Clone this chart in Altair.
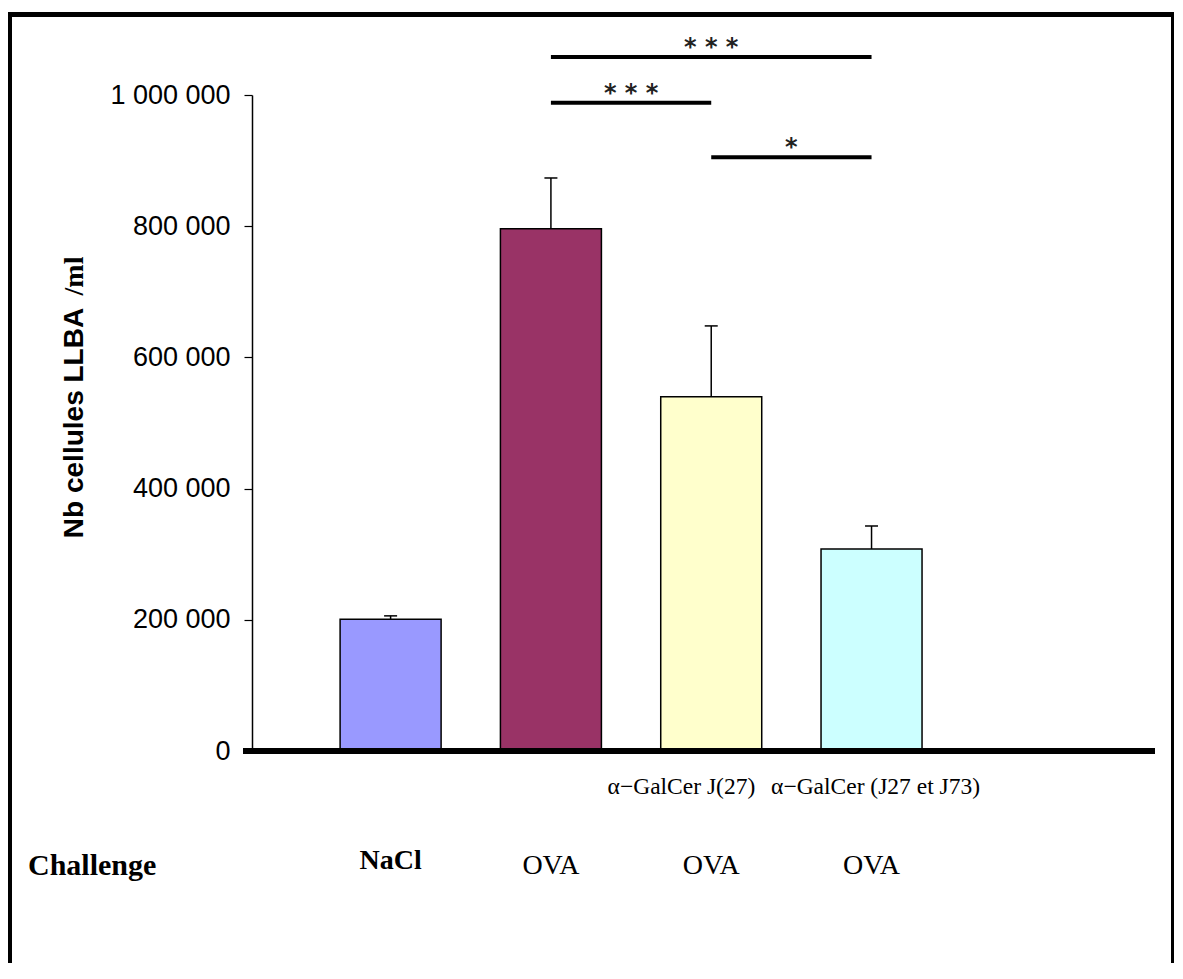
import altair as alt
import pandas as pd

# ---------------- data ----------------
groups = ["NaCl", "OVA", "OVA + a-GalCer J27", "OVA + a-GalCer J27+J73"]
challenge = ["NaCl", "OVA", "OVA", "OVA"]
treatment = ["", "", "α−GalCer J(27)", "α−GalCer (J27 et J73)"]
means = [201000, 796000, 540000, 308000]
errors = [5000, 77500, 108000, 35000]
colors = ["#9999FF", "#993366", "#FFFFCC", "#CCFFFF"]

y_ticks = [0, 200000, 400000, 600000, 800000, 1000000]

comp_from = [1, 1, 2]
comp_to = [3, 2, 3]
comp_y = [1058000, 988000, 905000]
comp_label = ["* * *", "* * *", "*"]

# ---------------- tables ----------------
df = pd.DataFrame({
    "group": groups,
    "idx": list(range(len(groups))),
    "challenge": challenge,
    "treatment": treatment,
    "mean": means,
    "err": errors,
    "color": colors,
})
df["top"] = df["mean"] + df["err"]

comp = pd.DataFrame({"x0": comp_from, "x1": comp_to, "y": comp_y, "label": comp_label})
comp["mid"] = (comp["x0"] + comp["x1"]) / 2

one = pd.DataFrame({"k": [0]})

W, H = 903, 656
xs = alt.Scale(domain=[-0.8334, 4.737], nice=False, zero=False)
ys = alt.Scale(domain=[0, 1000000], nice=False)

yaxis = alt.Axis(
    values=y_ticks,
    labelExpr="replace(format(datum.value, ','), regexp(',', 'g'), ' ')",
    labelFont="Liberation Sans",
    labelFontSize=27,
    labelColor="black",
    labelPadding=14,
    tickSize=8,
    tickColor="black",
    tickWidth=1.2,
    domainColor="black",
    domainWidth=1.5,
    grid=False,
    title="",
)

base = alt.Chart(df)

bars = base.mark_bar(size=101, stroke="black", strokeWidth=1.5).encode(
    x=alt.X("idx:Q", scale=xs, axis=None),
    y=alt.Y("mean:Q", scale=ys, axis=yaxis, title=""),
    color=alt.Color("color:N", scale=None),
)

err_rule = base.mark_rule(color="black", strokeWidth=1.5).encode(
    x=alt.X("idx:Q", scale=xs, axis=None),
    y=alt.Y("mean:Q", scale=ys, axis=yaxis, title=""),
    y2=alt.Y2("top"),
)

err_cap = base.mark_rule(color="black", strokeWidth=1.5, xOffset=-6.5, x2Offset=6.5).encode(
    x=alt.X("idx:Q", scale=xs, axis=None),
    x2=alt.X2("idx"),
    y=alt.Y("top:Q", scale=ys, axis=yaxis, title=""),
)

baseline = alt.Chart(one).mark_rule(color="black", strokeWidth=6).encode(
    y=alt.Y(datum=0, scale=ys, axis=yaxis, title=""),
    x=alt.value(-9),
    x2=alt.value(W),
)

sig_lines = alt.Chart(comp).mark_rule(color="black", strokeWidth=4).encode(
    x=alt.X("x0:Q", scale=xs, axis=None),
    x2=alt.X2("x1"),
    y=alt.Y("y:Q", scale=ys, axis=yaxis, title=""),
)

sig_text = alt.Chart(comp).mark_text(
    font="DejaVu Sans", fontSize=24, fontWeight="bold", color="#222222",
    align="center", baseline="alphabetic", dy=-2,
).encode(
    x=alt.X("mid:Q", scale=xs, axis=None),
    y=alt.Y("y:Q", scale=ys, axis=yaxis, title=""),
    text="label:N",
)

treat3 = base.transform_filter(alt.datum.idx == 2).mark_text(
    font="Liberation Serif", fontSize=23.5, color="black", align="right",
    baseline="middle", dx=44,
).encode(x=alt.X("idx:Q", scale=xs, axis=None), y=alt.value(692), text="treatment:N")

treat4 = base.transform_filter(alt.datum.idx == 3).mark_text(
    font="Liberation Serif", fontSize=23.5, color="black", align="center",
    baseline="middle", dx=4,
).encode(x=alt.X("idx:Q", scale=xs, axis=None), y=alt.value(692), text="treatment:N")

chal_nacl = base.transform_filter(alt.datum.challenge == "NaCl").mark_text(
    font="Liberation Serif", fontSize=28, fontWeight="bold", color="black",
    align="center", baseline="middle",
).encode(x=alt.X("idx:Q", scale=xs, axis=None), y=alt.value(766), text="challenge:N")

chal_ova = base.transform_filter(alt.datum.challenge == "OVA").mark_text(
    font="Liberation Serif", fontSize=28, color="black",
    align="center", baseline="middle",
).encode(x=alt.X("idx:Q", scale=xs, axis=None), y=alt.value(771), text="challenge:N")

chal_title = alt.Chart(one).mark_text(
    font="Liberation Serif", fontSize=30, fontWeight="bold", color="black",
    align="left", baseline="middle",
).encode(x=alt.value(-224), y=alt.value(771), text=alt.value("Challenge"))

ytitle1 = alt.Chart(one).mark_text(
    font="Liberation Sans", fontSize=28, fontWeight="bold", color="black",
    align="center", baseline="middle", angle=270,
).encode(x=alt.value(-177), y=alt.value(328), text=alt.value("Nb cellules LLBA"))

ytitle2 = alt.Chart(one).mark_text(
    font="Liberation Serif", fontSize=28, fontWeight="bold", color="black",
    align="center", baseline="middle", angle=270,
).encode(x=alt.value(-177), y=alt.value(181), text=alt.value("/ml"))

# figure frame (decoration)
frame_top = alt.Chart(one).mark_rule(color="black", strokeWidth=5).encode(
    x=alt.value(-244), x2=alt.value(W + 20), y=alt.value(-80.5))
frame_left = alt.Chart(one).mark_rule(color="black", strokeWidth=5).encode(
    x=alt.value(-242.5), y=alt.value(-83), y2=alt.value(H + 212))
frame_right = alt.Chart(one).mark_rule(color="black", strokeWidth=3).encode(
    x=alt.value(W + 17.5), y=alt.value(-83), y2=alt.value(H + 212))

chart = alt.layer(
    bars, err_rule, err_cap, baseline, sig_lines, sig_text,
    treat3, treat4, chal_nacl, chal_ova, chal_title, ytitle1, ytitle2,
    frame_top, frame_left, frame_right,
).properties(
    width=W,
    height=H,
    padding={"left": 244, "top": 87, "right": 19, "bottom": 212},
    autosize=alt.AutoSizeParams(type="none"),
    background="white",
).configure_view(strokeWidth=0)

chart.save("out.html", embed_options={"renderer": "svg", "actions": False})
